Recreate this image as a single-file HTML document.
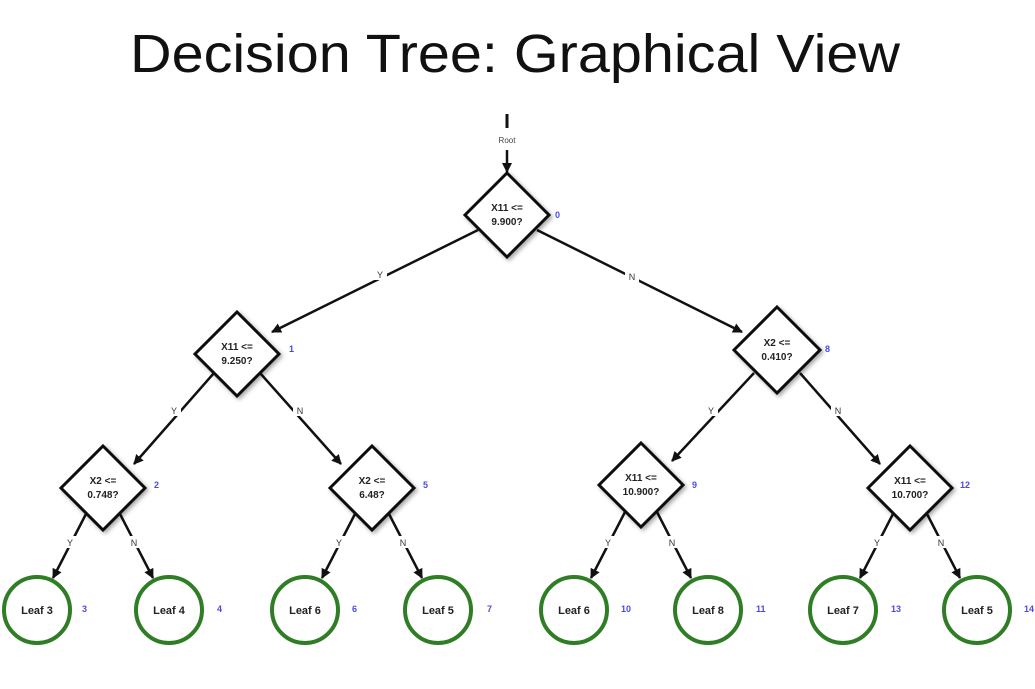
<!DOCTYPE html>
<html><head><meta charset="utf-8"><style>
html,body{margin:0;padding:0;background:#fff;}
body{width:1035px;height:689px;overflow:hidden;}
svg{display:block}
</style></head><body>
<svg width="1035" height="689" viewBox="0 0 1035 689" xmlns="http://www.w3.org/2000/svg" font-family="Liberation Sans, sans-serif">
<defs>
<marker id="a" markerWidth="10" markerHeight="10" refX="9" refY="5" orient="auto" markerUnits="userSpaceOnUse">
<path d="M0,0 L10,5 L0,10 z" fill="#111"/></marker>
<filter id="s" x="-20%" y="-20%" width="150%" height="150%"><feDropShadow dx="2" dy="2" stdDeviation="2" flood-opacity="0.35"/></filter>
</defs>
<text x="130" y="72" font-size="54" fill="#111" textLength="770" lengthAdjust="spacingAndGlyphs">Decision Tree: Graphical View</text>
<line x1="507" y1="114" x2="507" y2="128" stroke="#111" stroke-width="3"/>
<text x="507" y="143" text-anchor="middle" font-size="8" fill="#444">Root</text>
<line x1="507" y1="150" x2="507" y2="172" stroke="#111" stroke-width="2.5" marker-end="url(#a)"/>
<g stroke="#111" stroke-width="2.5" fill="none">
<line x1="478" y1="230" x2="272" y2="332" marker-end="url(#a)"/>
<line x1="537" y1="230" x2="742" y2="332" marker-end="url(#a)"/>
<line x1="214" y1="373" x2="134" y2="464" marker-end="url(#a)"/>
<line x1="260" y1="373" x2="341" y2="464" marker-end="url(#a)"/>
<line x1="754" y1="373" x2="672" y2="461" marker-end="url(#a)"/>
<line x1="800" y1="373" x2="880" y2="464" marker-end="url(#a)"/>
</g>
<g stroke="#111" stroke-width="2.5" fill="none">
<line x1="87" y1="512" x2="53" y2="578" marker-end="url(#a)"/>
<line x1="119" y1="512" x2="153" y2="578" marker-end="url(#a)"/>
<line x1="356" y1="512" x2="322" y2="578" marker-end="url(#a)"/>
<line x1="388" y1="512" x2="422" y2="578" marker-end="url(#a)"/>
<line x1="625" y1="512" x2="591" y2="578" marker-end="url(#a)"/>
<line x1="657" y1="512" x2="691" y2="578" marker-end="url(#a)"/>
<line x1="894" y1="512" x2="860" y2="578" marker-end="url(#a)"/>
<line x1="926" y1="512" x2="960" y2="578" marker-end="url(#a)"/>
</g>
<g font-size="9" fill="#333" text-anchor="middle">
<rect x="373" y="268" width="14" height="12" fill="#fff"/><text x="380" y="278">Y</text>
<rect x="625" y="270" width="14" height="12" fill="#fff"/><text x="632" y="280">N</text>
<rect x="167" y="404" width="14" height="12" fill="#fff"/><text x="174" y="414">Y</text>
<rect x="293" y="404" width="14" height="12" fill="#fff"/><text x="300" y="414">N</text>
<rect x="704" y="404" width="14" height="12" fill="#fff"/><text x="711" y="414">Y</text>
<rect x="831" y="404" width="14" height="12" fill="#fff"/><text x="838" y="414">N</text>
</g>
<g font-size="9" fill="#333" text-anchor="middle">
<rect x="63" y="536" width="14" height="12" fill="#fff"/><text x="70" y="546">Y</text>
<rect x="127" y="536" width="14" height="12" fill="#fff"/><text x="134" y="546">N</text>
<rect x="332" y="536" width="14" height="12" fill="#fff"/><text x="339" y="546">Y</text>
<rect x="396" y="536" width="14" height="12" fill="#fff"/><text x="403" y="546">N</text>
<rect x="601" y="536" width="14" height="12" fill="#fff"/><text x="608" y="546">Y</text>
<rect x="665" y="536" width="14" height="12" fill="#fff"/><text x="672" y="546">N</text>
<rect x="870" y="536" width="14" height="12" fill="#fff"/><text x="877" y="546">Y</text>
<rect x="934" y="536" width="14" height="12" fill="#fff"/><text x="941" y="546">N</text>
</g>
<g stroke="#111" stroke-width="3" fill="#fff" filter="url(#s)">
<polygon points="507,173 549,215 507,257 465,215"/>
<polygon points="237,312 279,354 237,396 195,354"/>
<polygon points="777,307 820,350 777,393 734,350"/>
<polygon points="103,446 145,488 103,530 61,488"/>
<polygon points="372,446 414,488 372,530 330,488"/>
<polygon points="641,443 683,485 641,527 599,485"/>
<polygon points="910,446 952,488 910,530 868,488"/>
</g>
<g font-size="10" font-weight="bold" fill="#222" text-anchor="middle">
<text x="507" y="211">X11 &lt;=</text><text x="507" y="225">9.900?</text>
<text x="237" y="350">X11 &lt;=</text><text x="237" y="364">9.250?</text>
<text x="777" y="346">X2 &lt;=</text><text x="777" y="360">0.410?</text>
<text x="103" y="484">X2 &lt;=</text><text x="103" y="498">0.748?</text>
<text x="372" y="484">X2 &lt;=</text><text x="372" y="498">6.48?</text>
<text x="641" y="481">X11 &lt;=</text><text x="641" y="495">10.900?</text>
<text x="910" y="484">X11 &lt;=</text><text x="910" y="498">10.700?</text>
</g>
<g font-size="9" font-weight="bold" fill="#4a4ae0">
<text x="555" y="218">0</text>
<text x="289" y="352">1</text>
<text x="825" y="352">8</text>
<text x="154" y="488">2</text>
<text x="423" y="488">5</text>
<text x="692" y="488">9</text>
<text x="960" y="488">12</text>
<text x="82" y="612">3</text>
<text x="217" y="612">4</text>
<text x="352" y="612">6</text>
<text x="487" y="612">7</text>
<text x="621" y="612">10</text>
<text x="756" y="612">11</text>
<text x="891" y="612">13</text>
<text x="1024" y="612">14</text>
</g>
<g stroke="#2f7d25" stroke-width="4" fill="#fff">
<circle cx="37" cy="610" r="33"/><circle cx="169" cy="610" r="33"/>
<circle cx="305" cy="610" r="33"/><circle cx="438" cy="610" r="33"/>
<circle cx="574" cy="610" r="33"/><circle cx="708" cy="610" r="33"/>
<circle cx="843" cy="610" r="33"/><circle cx="977" cy="610" r="33"/>
</g>
<g font-size="11" font-weight="bold" fill="#222" text-anchor="middle">
<text x="37" y="614">Leaf 3</text><text x="169" y="614">Leaf 4</text>
<text x="305" y="614">Leaf 6</text><text x="438" y="614">Leaf 5</text>
<text x="574" y="614">Leaf 6</text><text x="708" y="614">Leaf 8</text>
<text x="843" y="614">Leaf 7</text><text x="977" y="614">Leaf 5</text>
</g>
</svg>
</body></html>
